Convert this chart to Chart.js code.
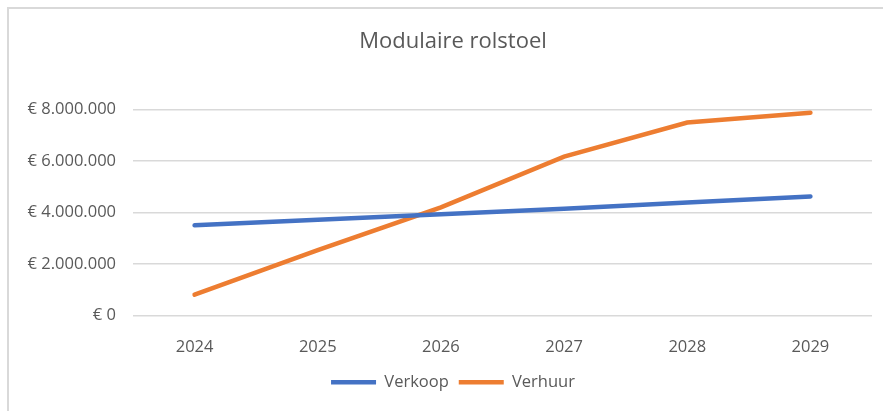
<!DOCTYPE html>
<html>
<head>
<meta charset="utf-8">
<script src="https://cdn.jsdelivr.net/npm/chart.js@4/dist/chart.umd.min.js"></script>
<style>
  body { margin: 0; background: #fff; overflow: hidden; }
  #frame {
    position: absolute; left: 7px; top: 7px; right: 0; bottom: 0;
    border-top: 2px solid #d9d9d9; border-left: 2px solid #d9d9d9;
  }
  #wrap { position: absolute; left: 0; top: 0; width: 883px; height: 411px; }
</style>
</head>
<body>
<div id="frame"></div>
<div id="wrap"><canvas id="chart" width="883" height="411"></canvas></div>
<script>
// Modulaire rolstoel - verkoop vs verhuur

const years = ["2024", "2025", "2026", "2027", "2028", "2029"];

const verkoop = [3500000, 3720000, 3930000, 4140000, 4390000, 4620000];

const verhuur = [810000, 2540000, 4200000, 6170000, 7490000, 7870000];

const yTicks = [0, 2000000, 4000000, 6000000, 8000000];


function euro(v){
    const s = Math.round(v).toString().replace(/\B(?=(\d{3})+(?!\d))/g, ".");
    return "€ " + s;
}

const grey = "#595959";
const fontFamily = "'Open Sans', sans-serif";

// title and legend sit a bit right of the canvas centre, like in Excel
const shiftBlocks = {
    id: "shiftBlocks",
    afterLayout(chart){
        [chart.titleBlock, chart.legend].forEach(b => {
            if(!b) return;
            b.left += 12;
            b.right += 12;
        });
    }
};

new Chart(document.getElementById("chart"), {
    type: "line",
    data: {
        labels: years,
        datasets: [
            {
                label: "Verkoop",
                data: verkoop,
                borderColor: "#4472C4",
                backgroundColor: "#4472C4",
                borderWidth: 4.5,
                borderCapStyle: "round",
                pointRadius: 0,
                pointStyle: "line",
                tension: 0
            },
            {
                label: "Verhuur",
                data: verhuur,
                borderColor: "#ED7D31",
                backgroundColor: "#ED7D31",
                borderWidth: 4.5,
                borderCapStyle: "round",
                pointRadius: 0,
                pointStyle: "line",
                tension: 0
            }
        ]
    },
    plugins: [shiftBlocks],
    options: {
        responsive: false,
        animation: false,
        layout: {
            padding: { left: 10, right: 11, top: 0, bottom: 10.5 }
        },
        plugins: {
            title: {
                display: true,
                text: "Modulaire rolstoel",
                color: grey,
                font: { family: fontFamily, size: 22, weight: "normal" },
                padding: { top: 28.5, bottom: 54.5 }
            },
            legend: {
                position: "bottom",
                labels: {
                    usePointStyle: true,
                    pointStyleWidth: 45,
                    color: grey,
                    padding: 10,
                    font: { family: fontFamily, size: 16.5 }
                }
            },
            tooltip: { enabled: false }
        },
        scales: {
            x: {
                offset: true,
                grid: { display: false },
                border: { display: false },
                ticks: {
                    color: grey,
                    padding: 14,
                    font: { family: fontFamily, size: 16.5 }
                },
                afterFit: function(scale){ scale.height = 48.5; }
            },
            y: {
                min: 0,
                max: 8000000,
                afterBuildTicks: function(scale){
                    scale.ticks = yTicks.map(v => ({ value: v }));
                },
                grid: { color: "#d9d9d9", lineWidth: 1.5, drawTicks: false },
                border: { display: false },
                ticks: {
                    color: grey,
                    padding: 17,
                    font: { family: fontFamily, size: 16.5 },
                    callback: function(v){ return euro(v); }
                },
                afterFit: function(scale){ scale.width = 123; }
            }
        }
    }
});
</script>
</body>
</html>
